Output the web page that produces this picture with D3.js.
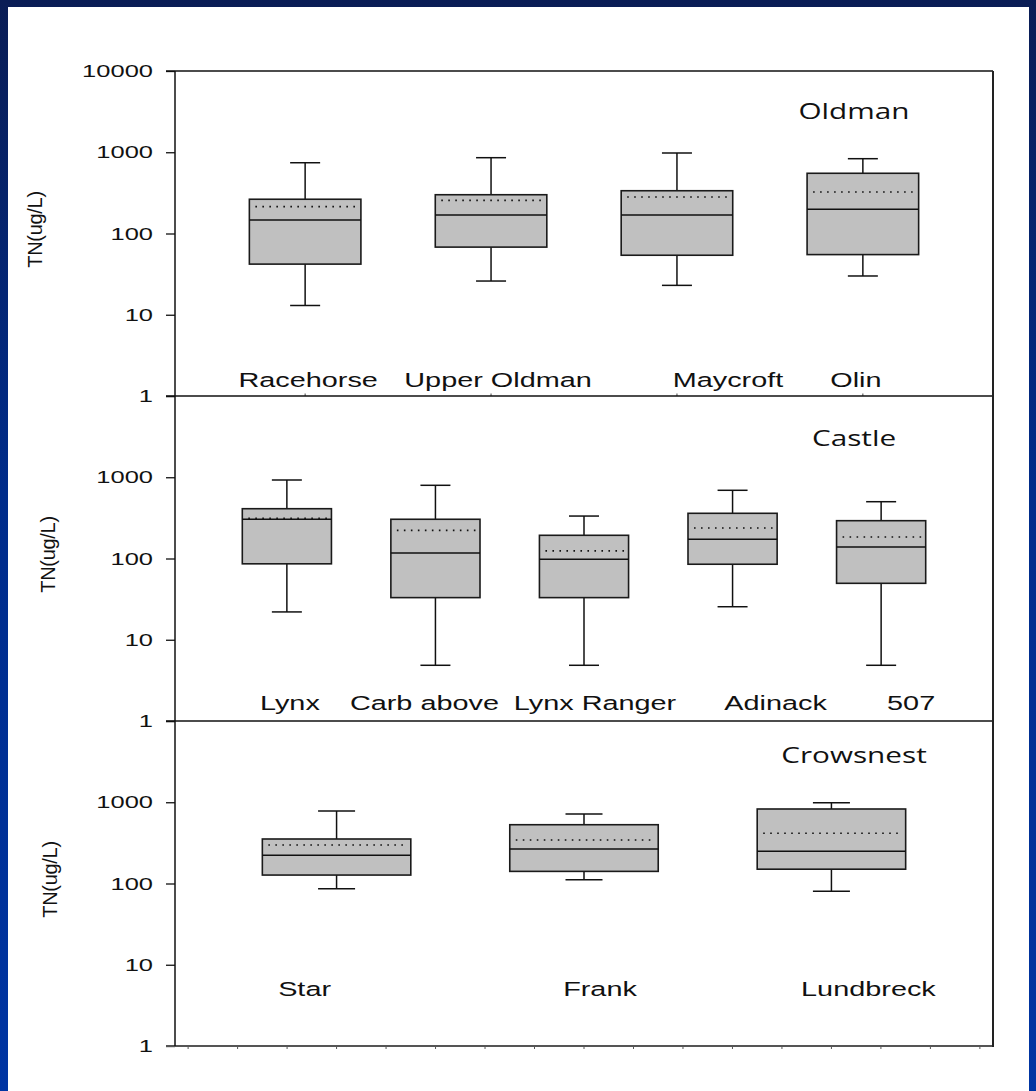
<!DOCTYPE html>
<html><head><meta charset="utf-8">
<script src="https://cdn.jsdelivr.net/npm/d3@7"></script>
<style>body{margin:0;background:#fff;} svg{display:block;}</style>
</head><body>
<svg id="c" width="1036" height="1091"></svg>
<script>
// ---------------- DATA ----------------
const panelNames = ["Oldman", "Castle", "Crowsnest"];
const yLabel = "TN(ug/L)";
const yTickValues = [1, 10, 100, 1000, 10000];
const yTickLabels = ["1", "10", "100", "1000", "10000"];

const oldmanSites = ["Racehorse", "Upper Oldman", "Maycroft", "Olin"];
const oldmanLow    = [13, 26, 23, 30];
const oldmanQ1     = [42, 68, 54, 55];
const oldmanMedian = [147, 169, 169, 199];
const oldmanMean   = [214, 256, 281, 324];
const oldmanQ3     = [264, 300, 336, 551];
const oldmanHigh   = [743, 857, 979, 833];

const castleSites  = ["Lynx", "Carb above", "Lynx Ranger", "Adinack", "507"];
const castleLow    = [22, 4.85, 4.85, 25.5, 4.85];
const castleQ1     = [86, 33, 33, 85, 49.5];
const castleMedian = [304, 117, 98, 172, 139];
const castleMean   = [312, 222, 124, 237, 184];
const castleQ3     = [410, 304, 193, 360, 292];
const castleHigh   = [925, 796, 333, 691, 500];

const crowsnestSites  = ["Star", "Frank", "Lundbreck"];
const crowsnestLow    = [86, 111, 80];
const crowsnestQ1     = [127, 141, 150];
const crowsnestMedian = [222, 266, 249];
const crowsnestMean   = [298, 343, 415];
const crowsnestQ3     = [353, 529, 826];
const crowsnestHigh   = [780, 717, 988];

// ---------------- LAYOUT ----------------
const plotLeft = 175, plotRight = 993;
const panelTops = [71, 396, 721];
const panelH = 325;
const panelLayout = [
  {padding: 0.70, cap: 30, titleDy: 48, labelDy: -9,  nudge: [3, 7, 51, -7], yTitleX: 42, showTop: true},
  {padding: 0.753, cap: 30, titleDy: 50, labelDy: -11, nudge: [3, -11, 11, 43, 30], yTitleX: 55, showTop: false},
  {padding: 0.653, cap: 37, titleDy: 42, labelDy: -50, nudge: [-32, 16, 37], yTitleX: 57, showTop: false}
];

const panels = [
  {sites: oldmanSites, low: oldmanLow, q1: oldmanQ1, med: oldmanMedian, mean: oldmanMean, q3: oldmanQ3, high: oldmanHigh},
  {sites: castleSites, low: castleLow, q1: castleQ1, med: castleMedian, mean: castleMean, q3: castleQ3, high: castleHigh},
  {sites: crowsnestSites, low: crowsnestLow, q1: crowsnestQ1, med: crowsnestMedian, mean: crowsnestMean, q3: crowsnestQ3, high: crowsnestHigh}
];

const svg = d3.select("#c");
const W = 1036, H = 1091;

// background frame
const defs = svg.append("defs");
const grad = defs.append("linearGradient").attr("id", "bg").attr("x1", 0).attr("y1", 0).attr("x2", 0).attr("y2", 1);
grad.append("stop").attr("offset", "0%").attr("stop-color", "#0a1d55");
grad.append("stop").attr("offset", "45%").attr("stop-color", "#002c8a");
grad.append("stop").attr("offset", "100%").attr("stop-color", "#0035a3");
svg.append("rect").attr("width", W).attr("height", H).attr("fill", "url(#bg)");
svg.append("rect").attr("x", 8).attr("y", 7).attr("width", 1021).attr("height", H - 7).attr("fill", "#fff");

const sansFont = "'Liberation Sans', Arial, sans-serif";
const stretch = 1.5;

panels.forEach((p, pi) => {
  const L = panelLayout[pi];
  const top = panelTops[pi], bottom = top + panelH;
  const y = d3.scaleLog().domain([1, 10000]).range([bottom, top]);
  const x = d3.scalePoint().domain(p.sites).range([plotLeft, plotRight]).padding(L.padding);
  const step = x.step();
  const bw = step * 0.6;
  const g = svg.append("g");

  // y axis ticks
  const axis = d3.axisLeft(y).tickValues(yTickValues).tickSize(9).tickFormat("");
  const ag = g.append("g").attr("transform", `translate(${plotLeft},0)`).call(axis);
  ag.select(".domain").remove();
  ag.selectAll(".tick line").attr("stroke", "#111").attr("stroke-width", 1.3);

  // tick labels
  yTickValues.forEach((v, i) => {
    if (v === 10000 && !L.showTop) return;
    g.append("text")
      .attr("transform", `translate(153,${y(v) + 6}) scale(${stretch},1)`)
      .attr("text-anchor", "end")
      .attr("font-family", sansFont).attr("font-size", 17).attr("fill", "#111")
      .text(yTickLabels[i]);
  });

  // y title
  g.append("text")
    .attr("transform", `translate(${L.yTitleX},${(top + bottom) / 2 - 4}) rotate(-90)`)
    .attr("text-anchor", "middle")
    .attr("font-family", sansFont).attr("font-size", 20).attr("letter-spacing", "-0.3px").attr("fill", "#111")
    .text(yLabel);

  // panel title
  g.append("text")
    .attr("transform", `translate(854,${top + L.titleDy}) scale(1.35,1)`)
    .attr("text-anchor", "middle")
    .attr("font-family", "'Open Sans', 'Noto Sans', sans-serif").attr("font-size", 22).attr("fill", "#111")
    .text(panelNames[pi]);

  // boxes
  const items = p.sites.map((s, i) => ({s, i}));
  const bx = g.selectAll("g.box").data(items).enter().append("g").attr("class", "box");
  // whiskers
  bx.append("line").attr("x1", d => x(d.s)).attr("x2", d => x(d.s))
    .attr("y1", d => y(p.q3[d.i])).attr("y2", d => y(p.high[d.i]))
    .attr("stroke", "#111").attr("stroke-width", 1.5);
  bx.append("line").attr("x1", d => x(d.s)).attr("x2", d => x(d.s))
    .attr("y1", d => y(p.q1[d.i])).attr("y2", d => y(p.low[d.i]))
    .attr("stroke", "#111").attr("stroke-width", 1.5);
  // caps
  bx.append("line").attr("x1", d => x(d.s) - L.cap / 2).attr("x2", d => x(d.s) + L.cap / 2)
    .attr("y1", d => y(p.high[d.i])).attr("y2", d => y(p.high[d.i]))
    .attr("stroke", "#111").attr("stroke-width", 1.5);
  bx.append("line").attr("x1", d => x(d.s) - L.cap / 2).attr("x2", d => x(d.s) + L.cap / 2)
    .attr("y1", d => y(p.low[d.i])).attr("y2", d => y(p.low[d.i]))
    .attr("stroke", "#111").attr("stroke-width", 1.5);
  // box
  bx.append("rect").attr("x", d => x(d.s) - bw / 2).attr("width", bw)
    .attr("y", d => y(p.q3[d.i])).attr("height", d => y(p.q1[d.i]) - y(p.q3[d.i]))
    .attr("fill", "#c0c0c0").attr("stroke", "#1a1a1a").attr("stroke-width", 1.6);
  // median
  bx.append("line").attr("x1", d => x(d.s) - bw / 2).attr("x2", d => x(d.s) + bw / 2)
    .attr("y1", d => y(p.med[d.i])).attr("y2", d => y(p.med[d.i]))
    .attr("stroke", "#111").attr("stroke-width", 1.5);
  // mean (dotted)
  bx.append("line").attr("x1", d => x(d.s) - bw / 2 + 6).attr("x2", d => x(d.s) + bw / 2 - 4)
    .attr("y1", d => y(p.mean[d.i])).attr("y2", d => y(p.mean[d.i]))
    .attr("stroke", "#111").attr("stroke-width", 1.6).attr("stroke-dasharray", "1.6,5.4");

  // category labels
  p.sites.forEach((s, i) => {
    g.append("text")
      .attr("transform", `translate(${x(s) + L.nudge[i]},${bottom + L.labelDy}) scale(1.48,1)`)
      .attr("text-anchor", "middle")
      .attr("font-family", sansFont).attr("font-size", 19.5).attr("fill", "#111")
      .text(s);
  });

  // small x ticks
  if (pi === 0) {
    p.sites.forEach(s => {
      g.append("line").attr("x1", x(s)).attr("x2", x(s)).attr("y1", bottom).attr("y2", bottom - 2.5)
        .attr("stroke", "#444").attr("stroke-width", 1);
    });
  }
  if (pi === 2) {
    const x0 = x(p.sites[0]);
    d3.range(-3, 14).forEach(k => {
      const xx = x0 + k * step / 5;
      g.append("line").attr("x1", xx).attr("x2", xx).attr("y1", bottom).attr("y2", bottom + 3)
        .attr("stroke", "#555").attr("stroke-width", 1);
    });
  }

  // top line of each panel (separator)
  g.append("line").attr("x1", 166).attr("x2", plotRight).attr("y1", top).attr("y2", top)
    .attr("stroke", "#111").attr("stroke-width", 1.3);
});

// bottom line
svg.append("line").attr("x1", 166).attr("x2", plotRight).attr("y1", panelTops[2] + panelH).attr("y2", panelTops[2] + panelH)
  .attr("stroke", "#555").attr("stroke-width", 2);
// left axis
svg.append("line").attr("x1", plotLeft).attr("x2", plotLeft).attr("y1", panelTops[0]).attr("y2", panelTops[2] + panelH)
  .attr("stroke", "#111").attr("stroke-width", 1.5);
// right line
svg.append("line").attr("x1", plotRight).attr("x2", plotRight).attr("y1", panelTops[0]).attr("y2", panelTops[2] + panelH + 1)
  .attr("stroke", "#222").attr("stroke-width", 2);
</script>
</body></html>
